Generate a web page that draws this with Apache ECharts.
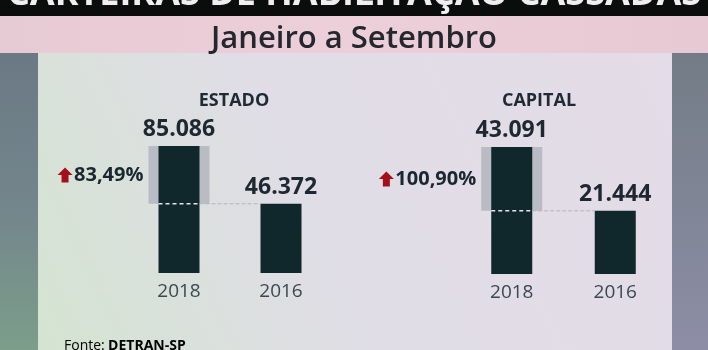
<!DOCTYPE html>
<html>
<head>
<meta charset="utf-8">
<script src="https://cdn.jsdelivr.net/npm/echarts@6/dist/echarts.min.js"></script>
<style>
html,body{margin:0;padding:0;background:#000;}
#c{width:708px;height:350px;}
</style>
</head>
<body>
<div id="c"></div>
<script>
// ---- data ----
const categories = ['2018', '2016'];
const estadoValues = [85086, 46372];
const capitalValues = [43091, 21444];
const panelTitles = ['ESTADO', 'CAPITAL'];
const changeLabels = ['83,49%', '100,90%'];
const headerText = 'CARTEIRAS DE HABILITAÇÃO CASSADAS';
const subTitle = 'Janeiro a Setembro';
const sourceLabel = 'Fonte:';
const sourceName = 'DETRAN-SP';

// ---- helpers ----
const fmt = v => String(v).replace(/\B(?=(\d{3})+(?!\d))/g, '.');
const FONT = '"Open Sans", "Noto Sans", sans-serif';
const measureCtx = document.createElement('canvas').getContext('2d');
function textWidth(t, font) { measureCtx.font = font; return measureCtx.measureText(t).width; }

const BAR_W = 41;
const SHADE_W = 61;
const BAR_COLOR = '#10272c';
const SHADE_COLOR = '#b9bcc5';

const chart = echarts.init(document.getElementById('c'), null, {renderer: 'canvas'});

function shadeRender(params, api) {
  const top = api.coord([0, api.value(1)]);
  const low = api.coord([0, api.value(2)]);
  return {
    type: 'rect',
    shape: {x: top[0] - SHADE_W / 2, y: top[1], width: SHADE_W, height: low[1] - top[1]},
    style: {fill: SHADE_COLOR}
  };
}

function annotRender(idx) {
  return function (params, api) {
    const top = api.coord([0, api.value(1)]);
    const low = api.coord([0, api.value(2)]);
    const other = api.coord([1, api.value(2)]);
    const lineY = low[1];
    const textRight = top[0] - SHADE_W / 2 - 5;
    const midY = (top[1] + low[1]) / 2;
    const label = changeLabels[idx];
    const tFont = 'bold 20px ' + FONT;
    const tw = textWidth(label, tFont);
    const ax = textRight - tw - 9; // arrow centre x
    const ay = midY;
    const a = 7.5;
    return {
      type: 'group',
      children: [
        {
          type: 'line',
          shape: {x1: top[0] - BAR_W / 2, y1: lineY, x2: top[0] + BAR_W / 2, y2: lineY},
          style: {stroke: '#e4e4ea', lineWidth: 1.5, lineDash: [4, 3]}
        },
        {
          type: 'line',
          shape: {x1: top[0] + BAR_W / 2, y1: lineY, x2: other[0] - BAR_W / 2, y2: lineY},
          style: {stroke: '#b4b4bc', lineWidth: 1, lineDash: [4, 2]}
        },
        {
          type: 'text',
          style: {
            x: textRight, y: midY, text: label,
            font: tFont, fill: '#1a2630', align: 'right', verticalAlign: 'middle'
          }
        },
        {
          type: 'polygon',
          shape: {points: [
            [ax, ay - a], [ax + a, ay], [ax + 3.5, ay], [ax + 3.5, ay + a],
            [ax - 3.5, ay + a], [ax - 3.5, ay], [ax - a, ay]
          ]},
          style: {fill: '#a3101b'}
        }
      ]
    };
  };
}

const grids = [
  {left: 128, width: 204, top: 146, height: 127},
  {left: 460, width: 207, top: 147, height: 127}
];
const valueSets = [estadoValues, capitalValues];

const xAxes = grids.map((g, i) => ({
  type: 'category', gridIndex: i, data: categories,
  axisLine: {show: false}, axisTick: {show: false},
  axisLabel: {color: '#3b4850', fontSize: 19, fontFamily: FONT, margin: 9}
}));
const yAxes = grids.map((g, i) => ({
  type: 'value', gridIndex: i, min: 0, max: valueSets[i][0], show: false
}));

const series = [];
valueSets.forEach((vals, i) => {
  series.push({
    type: 'custom', xAxisIndex: i, yAxisIndex: i, z: 1,
    renderItem: shadeRender, data: [[0, vals[0], vals[1]]], silent: true
  });
  series.push({
    type: 'bar', xAxisIndex: i, yAxisIndex: i, z: 2, barWidth: BAR_W,
    data: vals, itemStyle: {color: BAR_COLOR},
    label: {
      show: true, position: 'top', distance: 5,
      formatter: p => fmt(p.value),
      fontFamily: FONT, fontWeight: 'bold', fontSize: 23, color: '#1e2830'
    }
  });
  series.push({
    type: 'custom', xAxisIndex: i, yAxisIndex: i, z: 3,
    renderItem: annotRender(i), data: [[0, vals[0], vals[1]]], silent: true
  });
});

const option = {
  animation: false,
  backgroundColor: '#000',
  grid: grids,
  xAxis: xAxes,
  yAxis: yAxes,
  title: [
    {text: subTitle, left: 'center', top: 19,
      textStyle: {fontFamily: FONT, fontWeight: 600, fontSize: 31, color: '#24282e'}},
    {text: panelTitles[0], left: 229, textAlign: 'center', top: 87,
      textStyle: {fontFamily: FONT, fontWeight: 'bold', fontSize: 18, color: '#1f2a32'}},
    {text: panelTitles[1], left: 534, textAlign: 'center', top: 87,
      textStyle: {fontFamily: FONT, fontWeight: 'bold', fontSize: 18, color: '#1f2a32'}}
  ],
  graphic: [
    {type: 'rect', z: -10, shape: {x: 0, y: 0, width: 708, height: 16}, style: {fill: '#0b0d0c'}},
    {type: 'text', z: -9, style: {
      x: 354, y: 13, text: headerText, align: 'center', verticalAlign: 'bottom',
      font: 'bold 36px ' + FONT, fill: '#f1eef2', stroke: '#111', lineWidth: 1.5
    }},
    {type: 'rect', z: -10, shape: {x: 0, y: 16, width: 708, height: 37},
      style: {fill: new echarts.graphic.LinearGradient(0, 0, 1, 0, [
        {offset: 0, color: '#e6cad4'}, {offset: 0.5, color: '#eccfd9'}, {offset: 1, color: '#e7c9d3'}])}},
    {type: 'rect', z: -10, shape: {x: 0, y: 53, width: 38, height: 297},
      style: {fill: new echarts.graphic.LinearGradient(0, 0, 0, 1, [
        {offset: 0, color: '#6b7984'}, {offset: 0.55, color: '#74878c'}, {offset: 1, color: '#7c9e8a'}])}},
    {type: 'rect', z: -10, shape: {x: 672, y: 53, width: 36, height: 297},
      style: {fill: new echarts.graphic.LinearGradient(0, 0, 0, 1, [
        {offset: 0, color: '#737c86'}, {offset: 1, color: '#8d8ea6'}])}},
    {type: 'rect', z: -10, shape: {x: 38, y: 53, width: 634, height: 297},
      style: {fill: new echarts.graphic.LinearGradient(1, 0, 0, 1, [
        {offset: 0, color: '#e4dce6'}, {offset: 0.55, color: '#e0dde7'}, {offset: 1, color: '#d4e4d1'}])}},
    {type: 'text', z: 5, style: {
      x: 64, y: 346, verticalAlign: 'middle',
      text: '{a|' + sourceLabel + '} {b|' + sourceName + '}',
      rich: {
        a: {fontFamily: FONT, fontSize: 14, color: '#8e9c94'},
        b: {fontFamily: FONT, fontSize: 14, fontWeight: 'bold', color: '#24332f'}
      }
    }}
  ],
  series: series
};
chart.setOption(option);
</script>
</body>
</html>
